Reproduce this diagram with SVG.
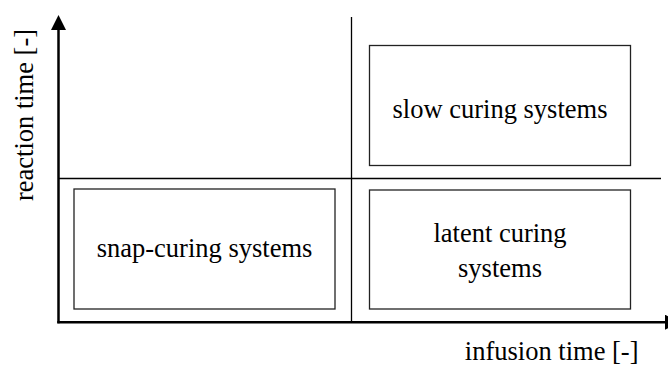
<svg xmlns="http://www.w3.org/2000/svg" width="668" height="365" viewBox="0 0 668 365">
<style>
.t{font-family:"Liberation Serif","Times New Roman",serif;font-size:26.5px;fill:#000}
.box{fill:#fff;stroke:#222;stroke-width:1.3}
.div{stroke:#000;stroke-width:1.3;fill:none}
.ax{stroke:#000;stroke-width:2.5;fill:none}
</style>
<defs>
<marker id="ah" viewBox="0 0 10 10" refX="7" refY="5" markerWidth="6" markerHeight="6" orient="auto" markerUnits="strokeWidth">
<path d="M0,0 L10,5 L0,10 z" fill="#000"/>
</marker>
</defs>
<rect width="668" height="365" fill="#fff"/>
<g id="connectors">
<line class="div" x1="351.5" y1="17" x2="351.5" y2="322"/>
<line class="div" x1="58" y1="178.5" x2="661" y2="178.5"/>
<line class="ax" x1="58.5" y1="323.2" x2="58.5" y2="19.5" marker-end="url(#ah)"/>
<line class="ax" x1="57.3" y1="322.2" x2="675.5" y2="322.2" marker-end="url(#ah)"/>
</g>
<g id="snap">
<rect class="box" x="74" y="189" width="261" height="120"/>
<text class="t" x="204.5" y="257" text-anchor="middle">snap-curing systems</text>
</g>
<g id="slow">
<rect class="box" x="369.5" y="45.5" width="261" height="120"/>
<text class="t" x="500" y="118" text-anchor="middle">slow curing systems</text>
</g>
<g id="latent">
<rect class="box" x="369.5" y="190" width="261" height="119"/>
<text class="t" x="500" y="242" text-anchor="middle">latent curing</text>
<text class="t" x="500" y="277" text-anchor="middle">systems</text>
</g>
<g id="xlabel">
<text class="t" x="638.5" y="360" text-anchor="end">infusion time [-]</text>
</g>
<g id="ylabel">
<text class="t" transform="translate(33,115) rotate(-90)" text-anchor="middle">reaction time [-]</text>
</g>
</svg>
